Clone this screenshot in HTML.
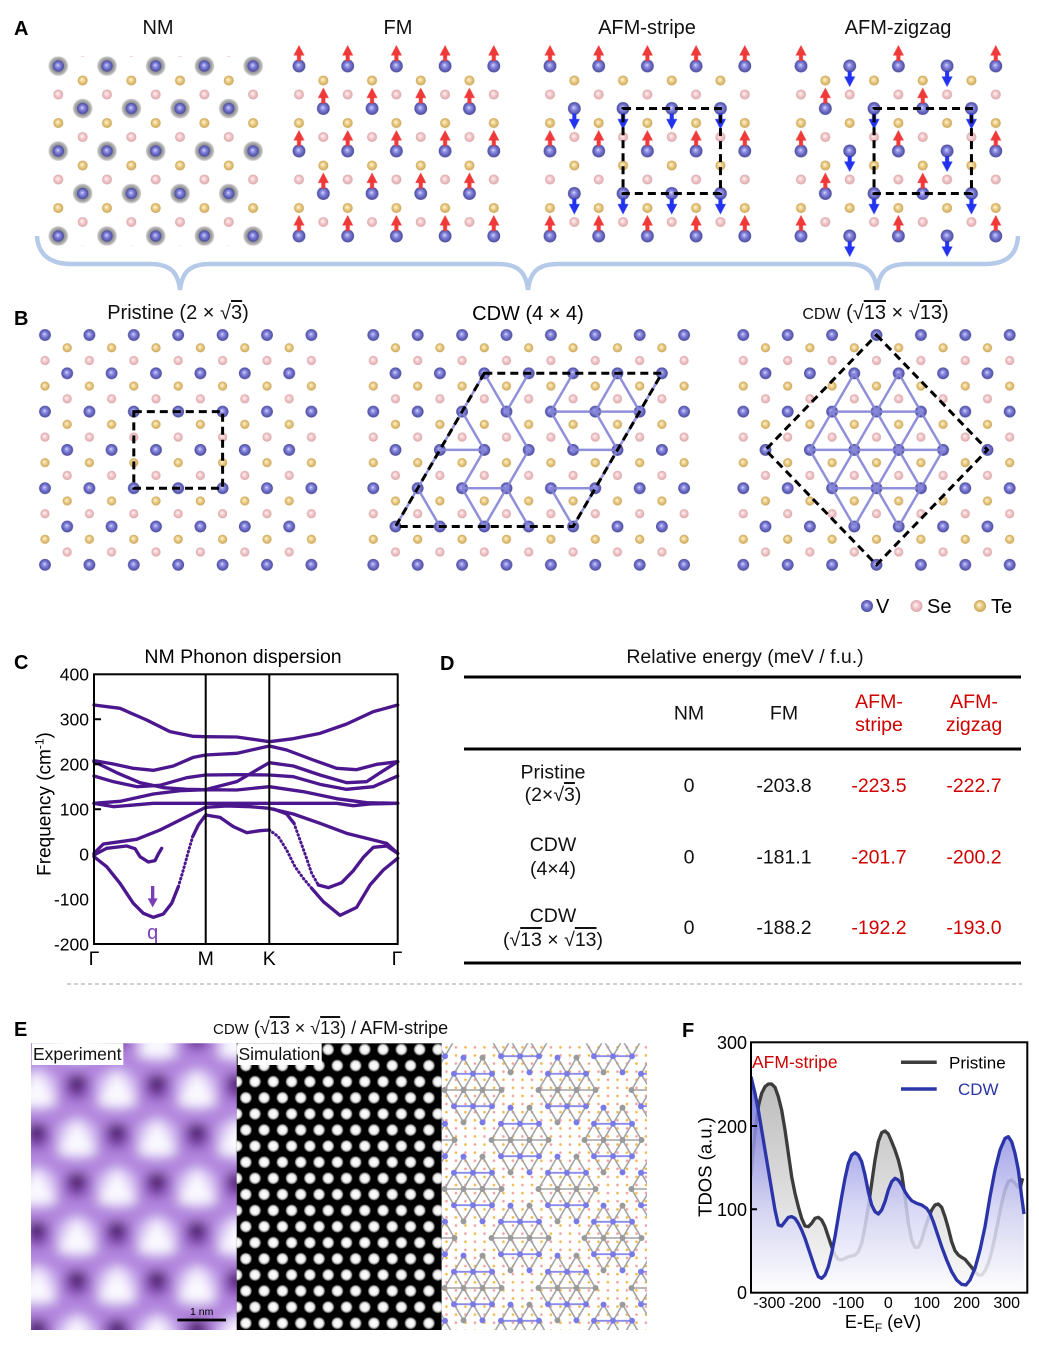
<!DOCTYPE html>
<html><head><meta charset="utf-8">
<style>
html,body{margin:0;padding:0;background:#fff;}
#w{position:relative;width:1039px;height:1345px;overflow:hidden;background:#fff;font-family:"Liberation Sans",Arial,sans-serif;}
#w svg{position:absolute;left:0;top:0;}
.t{position:absolute;white-space:nowrap;font-family:"Liberation Sans",Arial,sans-serif;color:#111;line-height:1;text-align:center;width:400px;}
.ov{text-decoration:overline;text-decoration-thickness:1.5px;}
</style></head><body><div id="w">
<svg width="1039" height="1345" viewBox="0 0 1039 1345" font-family="Liberation Sans, Arial, sans-serif">
<defs>
<radialGradient id="gV" cx="0.5" cy="0.5" r="0.5" fx="0.45" fy="0.42"><stop offset="0" stop-color="#f0f0ff"/><stop offset="0.18" stop-color="#a8a8f0"/><stop offset="0.55" stop-color="#7474d0"/><stop offset="1" stop-color="#4a4a98"/></radialGradient>
<radialGradient id="gT" cx="0.5" cy="0.5" r="0.5" fx="0.42" fy="0.4"><stop offset="0" stop-color="#fff8e0"/><stop offset="0.4" stop-color="#f0d490"/><stop offset="1" stop-color="#caa458"/></radialGradient>
<radialGradient id="gS" cx="0.5" cy="0.5" r="0.5" fx="0.42" fy="0.4"><stop offset="0" stop-color="#fff8f8"/><stop offset="0.4" stop-color="#f6d0d2"/><stop offset="1" stop-color="#daa6aa"/></radialGradient>
<radialGradient id="gH" cx="0.5" cy="0.5" r="0.5"><stop offset="0" stop-color="#8a8a8a"/><stop offset="0.7" stop-color="#9c9c9c"/><stop offset="0.88" stop-color="#bebebe"/><stop offset="1" stop-color="#e6e6e6"/></radialGradient>
<radialGradient id="gD" cx="0.5" cy="0.5" r="0.5"><stop offset="0" stop-color="#ffffff"/><stop offset="0.6" stop-color="#f2f2f2"/><stop offset="0.82" stop-color="#9a9a9a"/><stop offset="1" stop-color="#000000"/></radialGradient>
<linearGradient id="gPf" gradientUnits="userSpaceOnUse" x1="0" y1="97" x2="0" y2="848"><stop offset="0" stop-color="#a8a8a8"/><stop offset="1" stop-color="#fafafa"/></linearGradient>
<linearGradient id="gCf" gradientUnits="userSpaceOnUse" x1="0" y1="97" x2="0" y2="848"><stop offset="0" stop-color="#4040c8" stop-opacity="0.9"/><stop offset="0.33" stop-color="#8a8ae2" stop-opacity="0.85"/><stop offset="0.67" stop-color="#d2d2f5" stop-opacity="0.85"/><stop offset="1" stop-color="#ffffff" stop-opacity="0.85"/></linearGradient>
<path id="au" d="M0,-21 L5.5,-10.5 L2,-10.5 L2,-5 L-2,-5 L-2,-10.5 L-5.5,-10.5 Z" fill="#f03a3a"/>
<path id="ad" d="M0,21 L5.5,10.5 L2,10.5 L2,5 L-2,5 L-2,10.5 L-5.5,10.5 Z" fill="#2232ee"/>
<pattern id="pN" width="48.7" height="85" patternUnits="userSpaceOnUse">
<circle cx="12.175" cy="7.08" r="10" fill="url(#gH)"/><circle cx="12.175" cy="92.08" r="10" fill="url(#gH)"/><circle cx="36.525" cy="49.58" r="10" fill="url(#gH)"/>
<circle cx="12.175" cy="7.08" r="5.7" fill="url(#gV)"/><circle cx="36.525" cy="49.58" r="5.7" fill="url(#gV)"/>
<circle cx="36.525" cy="21.58" r="5" fill="url(#gT)"/><circle cx="12.175" cy="64.08" r="5" fill="url(#gT)"/>
<circle cx="12.175" cy="35.58" r="5" fill="url(#gS)"/><circle cx="36.525" cy="78.08" r="5" fill="url(#gS)"/>
</pattern>
<pattern id="pA" width="48.7" height="85" patternUnits="userSpaceOnUse">
<circle cx="12.175" cy="7.08" r="6.4" fill="url(#gV)"/><circle cx="36.525" cy="49.58" r="6.4" fill="url(#gV)"/>
<circle cx="36.525" cy="21.58" r="5" fill="url(#gT)"/><circle cx="12.175" cy="64.08" r="5" fill="url(#gT)"/>
<circle cx="12.175" cy="35.58" r="5" fill="url(#gS)"/><circle cx="36.525" cy="78.08" r="5" fill="url(#gS)"/>
</pattern>
<pattern id="pFM" width="48.7" height="85" patternUnits="userSpaceOnUse"><use href="#au" x="12.175" y="21.25"/><use href="#au" x="36.525" y="63.75"/></pattern>
<pattern id="pST" width="48.7" height="85" patternUnits="userSpaceOnUse"><use href="#au" x="12.175" y="21.25"/><use href="#ad" x="36.525" y="63.75"/></pattern>
<pattern id="pZZ" width="97.4" height="85" patternUnits="userSpaceOnUse"><use href="#au" x="12.175" y="21.25"/><use href="#au" x="36.525" y="63.75"/><use href="#ad" x="60.875" y="21.25"/><use href="#ad" x="85.225" y="63.75"/></pattern>
<pattern id="pB" width="44.4" height="76.6" patternUnits="userSpaceOnUse">
<circle cx="11.1" cy="6.38" r="5.9" fill="url(#gV)"/><circle cx="33.3" cy="44.68" r="5.9" fill="url(#gV)"/>
<circle cx="33.3" cy="19.18" r="4.6" fill="url(#gT)"/><circle cx="11.1" cy="57.48" r="4.6" fill="url(#gT)"/>
<circle cx="11.1" cy="31.88" r="4.6" fill="url(#gS)"/><circle cx="33.3" cy="70.18" r="4.6" fill="url(#gS)"/>
</pattern>
<pattern id="pS" x="250.4" y="1073.65" width="18.3" height="32.2" patternUnits="userSpaceOnUse">
<circle cx="4.575" cy="8.05" r="6.3" fill="url(#gD)"/><circle cx="22.875" cy="8.05" r="6.3" fill="url(#gD)"/>
<circle cx="13.725" cy="24.15" r="6.3" fill="url(#gD)"/><circle cx="-4.575" cy="24.15" r="6.3" fill="url(#gD)"/>
</pattern>
<pattern id="pE" x="17" y="1062.5" width="80" height="98" patternUnits="userSpaceOnUse">
<circle cx="20" cy="27" r="20" fill="#dcc8f6"/><polygon points="20,8 40,43 0,43" fill="#fbfaff"/>
<circle cx="60" cy="24.5" r="14" fill="#8a50bc"/><polygon points="49,14 71,14 60,35" fill="#3c0e54"/>
<circle cx="20" cy="73.5" r="14" fill="#8a50bc"/><polygon points="9,63 31,63 20,84" fill="#3c0e54"/>
<circle cx="60" cy="76" r="20" fill="#dcc8f6"/><polygon points="60,57 80,92 40,92" fill="#fbfaff"/>
</pattern>
<pattern id="pDot" x="441.7" y="1043.3" width="19" height="16.2" patternUnits="userSpaceOnUse">
<circle cx="4.75" cy="4.05" r="1.3" fill="#f2b84a"/><circle cx="14.25" cy="4.05" r="1.3" fill="#f4a0a0"/>
<circle cx="14.25" cy="12.15" r="1.3" fill="#f2b84a"/><circle cx="4.75" cy="12.15" r="1.3" fill="#f4a0a0"/>
</pattern>
<g id="clu">
<path d="M-9.5,-32.4 L19,16.2 M-19,-16.2 L9.5,32.4 M-28.5,0 L-9.5,32.4 M9.5,-32.4 L28.5,0 M9.5,-32.4 L-19,16.2 M19,-16.2 L-9.5,32.4 M28.5,0 L9.5,32.4 M-9.5,-32.4 L-28.5,0 M-28.5,0 L28.5,0" stroke="#a4a4a4" stroke-width="1.6" fill="none"/>
<path d="M-19,-16.2 L19,-16.2 M-19,16.2 L19,16.2" stroke="#8c8ce8" stroke-width="1.8" fill="none"/>
<g fill="#7a7ae6"><circle cx="-19" cy="-16.2" r="3"/><circle cx="0" cy="-16.2" r="3"/><circle cx="19" cy="-16.2" r="3"/><circle cx="-19" cy="16.2" r="3"/><circle cx="0" cy="16.2" r="3"/><circle cx="19" cy="16.2" r="3"/><circle cx="-9.5" cy="-32.4" r="3"/><circle cx="9.5" cy="32.4" r="3"/></g>
<g fill="#9a9a9a"><circle cx="-28.5" cy="0" r="3"/><circle cx="-9.5" cy="0" r="3"/><circle cx="9.5" cy="0" r="3"/><circle cx="28.5" cy="0" r="3"/><circle cx="9.5" cy="-32.4" r="3"/><circle cx="-9.5" cy="32.4" r="3"/></g>
</g>
<filter id="fb" x="-10%" y="-10%" width="120%" height="120%"><feGaussianBlur stdDeviation="5.5"/></filter>
<clipPath id="cE"><rect x="31" y="1043.3" width="205.7" height="286.7"/></clipPath>
<clipPath id="cM"><rect x="441.7" y="1043.3" width="205.3" height="286.7"/></clipPath>
<clipPath id="cF"><rect x="243" y="97" width="829" height="751"/></clipPath>
</defs>

<!-- Panel A -->
<text x="14" y="35" font-size="20" font-weight="bold">A</text>
<g font-size="20" text-anchor="middle" fill="#111">
<text x="158" y="34">NM</text><text x="398" y="34">FM</text><text x="647" y="34">AFM-stripe</text><text x="898" y="34">AFM-zigzag</text>
</g>
<g transform="translate(46.125,58.92)"><rect x="1.5" y="-2.5" width="217.5" height="189.3" fill="url(#pN)"/></g>
<g transform="translate(286.825,58.92)"><rect x="5" y="0" width="209.5" height="184.3" fill="url(#pA)"/></g>
<g transform="translate(537.825,58.92)"><rect x="5" y="0" width="209.5" height="184.3" fill="url(#pA)"/></g>
<g transform="translate(788.825,58.92)"><rect x="5" y="0" width="209.5" height="184.3" fill="url(#pA)"/></g>
<g transform="translate(286.825,44.75)"><rect x="0" y="0" width="219.2" height="212.5" fill="url(#pFM)"/></g>
<g transform="translate(537.825,44.75)"><rect x="0" y="0" width="219.2" height="212.5" fill="url(#pST)"/></g>
<g transform="translate(788.825,44.75)"><rect x="0" y="0" width="219.2" height="212.5" fill="url(#pZZ)"/></g>
<g fill="none" stroke="#000" stroke-width="3" stroke-dasharray="8 5">
<rect x="623.05" y="108.5" width="97.4" height="85"/>
<rect x="874.05" y="108.5" width="97.4" height="85"/>
</g>
<path d="M37,236 C38,256 52,264 72,264 L150,264 C170,264 178,272 180,290 C182,272 190,264 210,264 L498,264 C518,264 526,272 528,290 C530,272 538,264 558,264 L847,264 C867,264 875,272 877,290 C879,272 887,264 907,264 L985,264 C1005,264 1017,256 1018,236" fill="none" stroke="#b5c9e8" stroke-width="4.5"/>

<!-- Panel B -->
<text x="14" y="325" font-size="20" font-weight="bold">B</text>
<text x="528" y="320" font-size="20" text-anchor="middle">CDW (4 × 4)</text>
<g transform="translate(33.9,328.62)"><rect x="4.6" y="0" width="279.4" height="242.7" fill="url(#pB)"/></g>
<g transform="translate(362.2,328.62)"><rect x="4.6" y="0" width="323.8" height="242.7" fill="url(#pB)"/></g>
<g transform="translate(732.2,328.62)"><rect x="4.6" y="0" width="279.4" height="242.7" fill="url(#pB)"/></g>
<path d="M484.3,373.3 L506.5,411.6 L528.7,373.3 M506.5,411.6 L528.7,449.9 L506.5,488.2 M462.1,411.6 L484.3,449.9 L462.1,488.2 M439.9,449.9 L484.3,449.9 M462.1,488.2 L506.5,488.2 M462.1,488.2 L484.3,526.5 L506.5,488.2 L528.7,526.5 M417.7,488.2 L439.9,526.5 M484.3,373.3 L462.1,411.6 L439.9,449.9 L417.7,488.2 L395.5,526.5 M573.1,373.3 L550.9,411.6 L639.7,411.6 M617.5,373.3 L595.3,411.6 M617.5,373.3 L639.7,411.6 L617.5,449.9 L595.3,488.2 L573.1,526.5 L550.9,488.2 L595.3,488.2 M550.9,411.6 L573.1,449.9 L617.5,449.9 M595.3,411.6 L617.5,449.9 M661.9,373.3 L639.7,411.6" fill="none" stroke="#8484d6" stroke-width="2.5" stroke-opacity="0.9"/>
<path d="M832.1,411.6 L920.9,411.6 M809.9,449.9 L943.1,449.9 M832.1,488.2 L920.9,488.2 M854.3,373.3 L920.9,488.2 M832.1,411.6 L898.7,526.5 M809.9,449.9 L854.3,526.5 M898.7,373.3 L943.1,449.9 M898.7,373.3 L832.1,488.2 M920.9,411.6 L854.3,526.5 M943.1,449.9 L898.7,526.5 M854.3,373.3 L809.9,449.9" fill="none" stroke="#8484d6" stroke-width="2.5" stroke-opacity="0.9"/>
<g fill="none" stroke="#000" stroke-width="3" stroke-dasharray="8 5">
<rect x="133.8" y="411.6" width="88.8" height="76.6"/>
<polygon points="484.3,373.3 661.9,373.3 573.1,526.5 395.5,526.5"/>
<polygon points="876.5,335 987.5,449.9 876.5,564.8 765.5,449.9"/>
</g>
<circle cx="867" cy="606" r="6" fill="url(#gV)"/><circle cx="916.5" cy="606" r="6" fill="url(#gS)"/><circle cx="980" cy="606" r="6" fill="url(#gT)"/>
<g font-size="20"><text x="876" y="613">V</text><text x="927" y="613">Se</text><text x="991" y="613">Te</text></g>

<!-- Panel C -->
<text x="14" y="669" font-size="20" font-weight="bold">C</text>
<text x="243" y="663" font-size="19.5" text-anchor="middle">NM Phonon dispersion</text>
<g font-size="17.5" text-anchor="end">
<text x="89" y="680.5">400</text><text x="89" y="725.5">300</text><text x="89" y="770.5">200</text><text x="89" y="815.5">100</text><text x="89" y="860.5">0</text><text x="89" y="905.5">-100</text><text x="89" y="950.5">-200</text>
</g>
<text transform="translate(50.5,804) rotate(-90)" font-size="19" text-anchor="middle">Frequency (cm<tspan dy="-7" font-size="12">-1</tspan><tspan dy="7">)</tspan></text>
<g font-size="19.5" text-anchor="middle"><text x="94" y="965">Γ</text><text x="205.7" y="965">M</text><text x="269.3" y="965">K</text><text x="397" y="965">Γ</text></g>
<g transform="translate(20,640) scale(0.333333)" fill="none" stroke="#4b168e" stroke-width="10" stroke-linejoin="round" stroke-linecap="round">
<path d="M222,195 L300,205 L380,240 L450,275 L520,289 L557,290 L650,291 L748,305 L820,296 L900,280 L980,252 L1060,215 L1133,195"/>
<path d="M222,362 L280,372 L340,385 L400,391 L460,378 L520,352 L557,345 L650,340 L748,318 L800,330 L880,360 L950,385 L1010,389 L1070,373 L1133,365"/>
<path d="M222,365 L290,398 L360,428 L430,443 L500,448 L557,449 L650,425 L748,368 L820,378 L900,405 L980,428 L1040,425 L1090,392 L1133,365"/>
<path d="M222,408 L280,425 L350,440 L420,436 L500,413 L557,405 L650,404 L748,405 L820,410 L900,433 L980,448 L1060,440 L1133,408"/>
<path d="M222,490 L300,484 L400,462 L480,452 L557,449 L650,450 L748,440 L850,455 L950,476 L1040,488 L1133,490"/>
<path d="M222,490 L280,500 L330,496 L400,490 L557,490 L748,490 L950,490 L1000,497 L1050,492 L1133,490"/>
<path d="M222,640 L250,612 L300,605 L350,598 L420,570 L490,535 L557,502 L620,498 L690,500 L748,505 L820,522 L900,550 L980,580 L1060,600 L1100,610 L1133,640"/>
<path d="M222,650 L260,680 L300,730 L340,790 L370,820 L400,832 L430,822 L455,790 L475,740"/>
<path d="M518,590 L535,555 L557,525 L600,532 L640,560 L680,578 L720,572 L748,570"/>
<path d="M222,645 L260,625 L320,618 L345,626 L360,650 L385,666 L405,662 L415,642 L425,625"/>
<path d="M875,745 L910,785 L960,826 L1010,802 L1050,735 L1090,690 L1133,655"/>
<path d="M760,507 L800,522 L822,550"/>
<path d="M895,735 L925,743 L965,728 L1000,692 L1030,652 L1060,622 L1100,618 L1133,640"/>
<g stroke-width="9" stroke-dasharray="2 10">
<path d="M475,740 L490,690 L505,635 L518,590"/>
<path d="M748,570 L775,590 L800,630 L825,680 L850,715 L875,745"/>
<path d="M822,550 L840,600 L858,650 L875,700 L895,735"/>
</g>
</g>
<g transform="translate(20,640) scale(0.333333)" fill="#7b3fb5"><rect x="393" y="738" width="10" height="42"/><polygon points="383,775 413,775 398,802"/></g>
<text x="152.7" y="939" font-size="20" text-anchor="middle" fill="#7b3fb5">q</text>
<rect x="94" y="674.3" width="303.7" height="269.7" fill="none" stroke="#000" stroke-width="2"/>
<path d="M205.7,674.3 V944 M269.3,674.3 V944 M94,719.3 H101 M94,764.3 H101 M94,809.3 H101" stroke="#000" stroke-width="2"/>

<!-- Panel D -->
<text x="440" y="670" font-size="20" font-weight="bold">D</text>
<g font-size="19.5" text-anchor="middle" fill="#111">
<text x="745" y="663">Relative energy (meV / f.u.)</text>
<text x="689" y="719.5">NM</text><text x="784" y="719.5">FM</text>
<text x="879" y="708" fill="#d00000">AFM-</text><text x="879" y="731" fill="#d00000">stripe</text>
<text x="974" y="708" fill="#d00000">AFM-</text><text x="974" y="731" fill="#d00000">zigzag</text>
<text x="553" y="778.5">Pristine</text>
<text x="689" y="792">0</text><text x="784" y="792">-203.8</text><text x="879" y="792" fill="#d00000">-223.5</text><text x="974" y="792" fill="#d00000">-222.7</text>
<text x="553" y="851">CDW</text><text x="553" y="875">(4×4)</text>
<text x="689" y="863.5">0</text><text x="784" y="863.5">-181.1</text><text x="879" y="863.5" fill="#d00000">-201.7</text><text x="974" y="863.5" fill="#d00000">-200.2</text>
<text x="553" y="922">CDW</text>
<text x="689" y="934">0</text><text x="784" y="934">-188.2</text><text x="879" y="934" fill="#d00000">-192.2</text><text x="974" y="934" fill="#d00000">-193.0</text>
</g>
<path d="M464,677 H1021 M464,749 H1021 M464,963 H1021" stroke="#000" stroke-width="3"/>

<line x1="67" y1="984" x2="1022" y2="984" stroke="#a0a0a0" stroke-width="1" stroke-dasharray="4 3"/>

<!-- Panel E -->
<text x="14" y="1036" font-size="20" font-weight="bold">E</text>
<g clip-path="url(#cE)"><g filter="url(#fb)"><rect x="10" y="1020" width="250" height="330" fill="#b286de"/><rect x="10" y="1020" width="250" height="330" fill="url(#pE)"/></g></g>
<rect x="236.7" y="1043.3" width="205" height="286.7" fill="#000"/>
<rect x="236.7" y="1043.3" width="205" height="286.7" fill="url(#pS)"/>
<g clip-path="url(#cM)">
<rect x="441.7" y="1043.3" width="205.3" height="286.7" fill="#fff"/>
<rect x="441.7" y="1043.3" width="205.3" height="286.7" fill="url(#pDot)"/>
<use href="#clu" x="426" y="1040"/><use href="#clu" x="520" y="1040"/><use href="#clu" x="613" y="1040"/>
<use href="#clu" x="473" y="1090"/><use href="#clu" x="567" y="1090"/><use href="#clu" x="660" y="1090"/>
<use href="#clu" x="426" y="1140"/><use href="#clu" x="520" y="1140"/><use href="#clu" x="613" y="1140"/>
<use href="#clu" x="473" y="1189"/><use href="#clu" x="567" y="1189"/><use href="#clu" x="660" y="1189"/>
<use href="#clu" x="426" y="1238"/><use href="#clu" x="520" y="1238"/><use href="#clu" x="613" y="1238"/>
<use href="#clu" x="473" y="1288"/><use href="#clu" x="567" y="1288"/><use href="#clu" x="660" y="1288"/>
<use href="#clu" x="426" y="1337"/><use href="#clu" x="520" y="1337"/><use href="#clu" x="613" y="1337"/>
</g>
<rect x="31.7" y="1043.3" width="91.6" height="21.7" fill="#fff"/>
<rect x="237.7" y="1043.3" width="84" height="21.7" fill="#fff"/>
<g font-size="17.5" fill="#111"><text x="33" y="1060">Experiment</text><text x="238.5" y="1060">Simulation</text></g>
<line x1="177.3" y1="1320" x2="226" y2="1320" stroke="#000" stroke-width="2.7"/>
<text x="201.7" y="1315" font-size="10.5" text-anchor="middle">1 nm</text>

<!-- Panel F -->
<text x="682" y="1037" font-size="20" font-weight="bold">F</text>
<g transform="translate(670,1010) scale(0.333333)">
<g clip-path="url(#cF)">
<path d="M243,500 L250,420 L258,340 L266,285 L275,250 L285,230 L295,222 L305,222 L315,232 L325,260 L335,300 L345,360 L355,430 L365,500 L375,550 L385,590 L395,625 L405,648 L415,650 L425,640 L435,625 L445,622 L455,630 L465,650 L475,680 L485,710 L495,735 L505,748 L515,750 L525,745 L535,740 L545,738 L555,735 L565,725 L575,700 L585,650 L595,590 L605,520 L615,450 L625,395 L635,368 L645,363 L655,372 L665,395 L675,420 L685,450 L695,490 L705,560 L715,640 L725,690 L735,712 L745,712 L755,690 L765,655 L775,625 L785,600 L795,585 L805,582 L815,592 L825,620 L835,655 L845,695 L855,722 L865,735 L875,742 L885,748 L895,760 L905,772 L915,785 L925,795 L935,795 L945,782 L955,760 L965,725 L975,680 L985,630 L995,580 L1005,540 L1015,515 L1025,510 L1035,520 L1045,532 L1052,528 L1058,505 L1058,848 L243,848 Z" fill="url(#gPf)" fill-opacity="0.9"/>
<path d="M243,500 L250,420 L258,340 L266,285 L275,250 L285,230 L295,222 L305,222 L315,232 L325,260 L335,300 L345,360 L355,430 L365,500 L375,550 L385,590 L395,625 L405,648 L415,650 L425,640 L435,625 L445,622 L455,630 L465,650 L475,680 L485,710 L495,735 L505,748 L515,750 L525,745 L535,740 L545,738 L555,735 L565,725 L575,700 L585,650 L595,590 L605,520 L615,450 L625,395 L635,368 L645,363 L655,372 L665,395 L675,420 L685,450 L695,490 L705,560 L715,640 L725,690 L735,712 L745,712 L755,690 L765,655 L775,625 L785,600 L795,585 L805,582 L815,592 L825,620 L835,655 L845,695 L855,722 L865,735 L875,742 L885,748 L895,760 L905,772 L915,785 L925,795 L935,795 L945,782 L955,760 L965,725 L975,680 L985,630 L995,580 L1005,540 L1015,515 L1025,510 L1035,520 L1045,532 L1052,528 L1058,505" fill="none" stroke="#3c3c3c" stroke-width="10" stroke-linejoin="round"/>
<path d="M243,200 L255,250 L265,300 L275,360 L285,420 L295,480 L305,540 L315,600 L325,645 L335,648 L345,635 L355,622 L365,620 L375,625 L385,640 L395,660 L405,685 L415,715 L425,745 L435,775 L445,800 L455,805 L465,795 L475,770 L485,730 L495,680 L505,620 L515,560 L525,505 L535,460 L545,435 L555,428 L565,435 L575,455 L585,495 L595,545 L605,585 L615,605 L625,612 L635,600 L645,575 L655,540 L665,515 L675,505 L685,510 L695,525 L705,545 L715,560 L725,572 L740,580 L755,585 L770,595 L780,610 L790,635 L800,665 L815,710 L830,750 L845,785 L860,810 L875,823 L888,825 L900,810 L915,775 L930,720 L945,650 L960,560 L975,480 L990,420 L1005,385 L1015,380 L1025,395 L1035,430 L1045,480 L1055,560 L1062,612 L1062,848 L243,848 Z" fill="url(#gCf)"/>
<path d="M243,200 L255,250 L265,300 L275,360 L285,420 L295,480 L305,540 L315,600 L325,645 L335,648 L345,635 L355,622 L365,620 L375,625 L385,640 L395,660 L405,685 L415,715 L425,745 L435,775 L445,800 L455,805 L465,795 L475,770 L485,730 L495,680 L505,620 L515,560 L525,505 L535,460 L545,435 L555,428 L565,435 L575,455 L585,495 L595,545 L605,585 L615,605 L625,612 L635,600 L645,575 L655,540 L665,515 L675,505 L685,510 L695,525 L705,545 L715,560 L725,572 L740,580 L755,585 L770,595 L780,610 L790,635 L800,665 L815,710 L830,750 L845,785 L860,810 L875,823 L888,825 L900,810 L915,775 L930,720 L945,650 L960,560 L975,480 L990,420 L1005,385 L1015,380 L1025,395 L1035,430 L1045,480 L1055,560 L1062,612" fill="none" stroke="#2b35a8" stroke-width="10" stroke-linejoin="round"/>
</g>
</g>
<rect x="751" y="1042.3" width="276.3" height="250.4" fill="none" stroke="#000" stroke-width="2"/>
<path d="M751,1126 H757 M751,1209.3 H757" stroke="#000" stroke-width="2"/>
<g font-size="18" text-anchor="end"><text x="747" y="1049">300</text><text x="747" y="1133">200</text><text x="747" y="1216">100</text><text x="747" y="1299">0</text></g>
<g font-size="16" text-anchor="middle"><text x="769.3" y="1308">-300</text><text x="805" y="1308">-200</text><text x="848.3" y="1308">-100</text><text x="888.3" y="1308">0</text><text x="926.7" y="1308">100</text><text x="966.7" y="1308">200</text><text x="1006.7" y="1308">300</text></g>
<text x="883" y="1328" font-size="18" text-anchor="middle">E-E<tspan dy="4" font-size="12">F</tspan><tspan dy="-4"> (eV)</tspan></text>
<text transform="translate(711.5,1167) rotate(-90)" font-size="18.5" text-anchor="middle">TDOS (a.u.)</text>
<line x1="901" y1="1062.3" x2="936.7" y2="1062.3" stroke="#3c3c3c" stroke-width="3.5"/>
<line x1="901" y1="1089" x2="936.7" y2="1089" stroke="#2b35a8" stroke-width="3.5"/>
<text x="949" y="1068.5" font-size="17">Pristine</text>
<text x="958" y="1095" font-size="17" fill="#2b35a8">CDW</text>
<text x="752" y="1068" font-size="17.5" fill="#d00000">AFM-stripe</text>
</svg>

<div class="t" style="left:-22px;top:303.1px;font-size:20px;">Pristine (2 × √<span class="ov">3</span>)</div>
<div class="t" style="left:675.5px;top:303.1px;font-size:20px;"><span style="font-size:16px">CDW</span> (√<span class="ov">13</span> × √<span class="ov">13</span>)</div>
<div class="t" style="left:353px;top:785.5px;font-size:19.5px;">(2×√<span class="ov">3</span>)</div>
<div class="t" style="left:353px;top:930.5px;font-size:19.5px;">(√<span class="ov">13</span> × √<span class="ov">13</span>)</div>
<div class="t" style="left:213px;top:1018.8px;font-size:18px;text-align:left;width:300px;"><span style="font-size:15px">CDW</span> (√<span class="ov">13</span> × √<span class="ov">13</span>) / AFM-stripe</div>
</div></body></html>
